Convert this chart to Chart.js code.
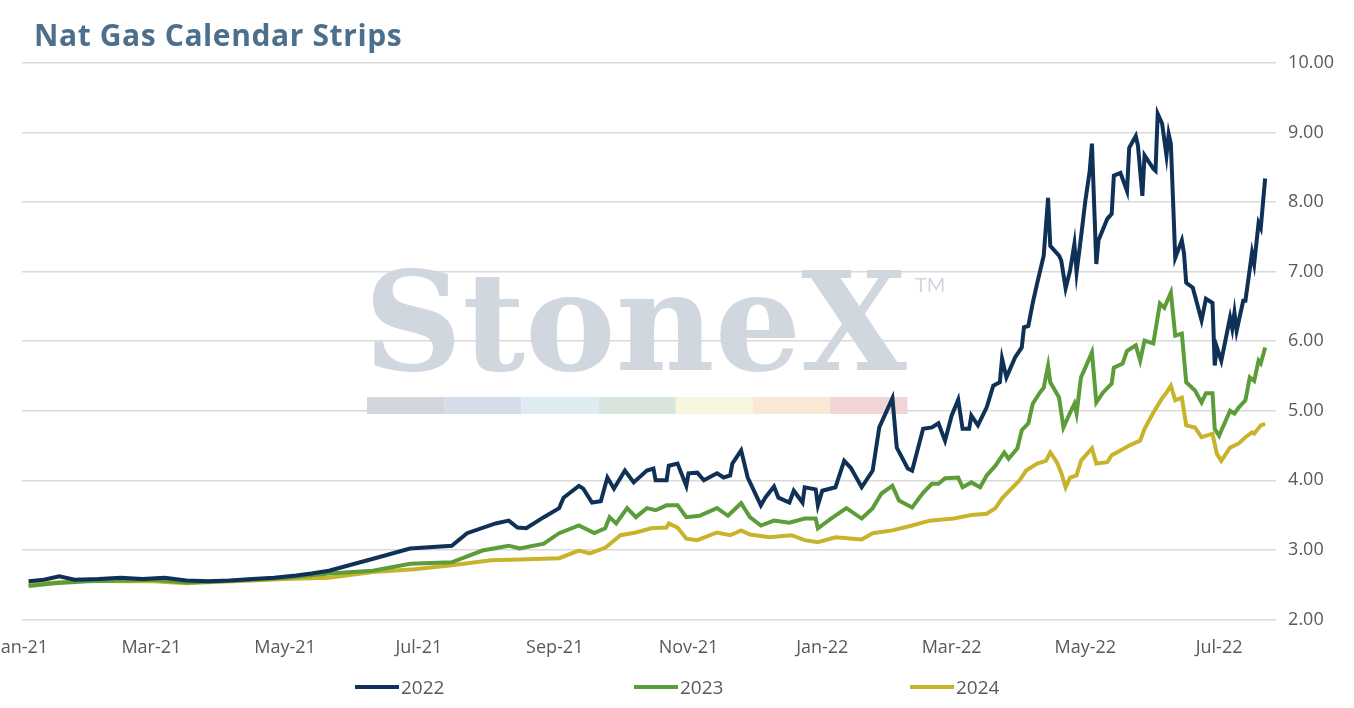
<!DOCTYPE html>
<html>
<head>
<meta charset="utf-8">
<script src="https://cdn.jsdelivr.net/npm/chart.js@4/dist/chart.umd.min.js"></script>
<style>
  body { margin: 0; background: #fff; font-family: "Open Sans", sans-serif; }
  #wrap { position: relative; width: 1354px; height: 708px; overflow: hidden; }
  #titulo { position: absolute; left: 34px; top: 14px; font-size: 30px; font-weight: bold; color: #4b6f8c; letter-spacing: 0.6px; }
  #leyenda { position: absolute; top: 674px; left: 0; width: 1354px; font-size: 19px; color: #595959; }
  .item { position: absolute; display: flex; align-items: center; }
  .item span.linea { display: inline-block; width: 44px; height: 4px; margin-right: 2px; }
</style>
</head>
<body>
<div id="wrap">
  <canvas id="grafico" width="1354" height="708"></canvas>
  <div id="titulo">Nat Gas Calendar Strips</div>
  <div id="leyenda"></div>
</div>
<script>
// dias desde el 1 de enero de 2021
const dias2022 = [3,10,17,24,35,45,55,65,75,85,95,105,115,125,132,140,161,177,196,203,216,222,226,230,238,245,247,254,256,260,264,267,270,275,279,285,288,289,294,295,299,303,304,308,311,317,320,323,324,328,331,337,339,343,345,350,352,356,357,362,363,365,371,375,378,383,388,391,397,399,404,406,411,415,418,421,424,427,429,432,433,436,440,443,446,447,449,453,456,457,459,461,463,466,468,469,473,474,476,478,480,481,483,485,487,488,490,491,495,497,498,501,504,505,508,509,511,512,516,517,518,520,522,523,524,526,529,530,531,534,538,540,543,544,545,547,551,552,553,554,557,558,561,562,564,565,567];
const valores2022 = [2.55,2.57,2.62,2.57,2.58,2.60,2.58,2.60,2.56,2.55,2.56,2.58,2.60,2.63,2.66,2.70,2.88,3.02,3.06,3.24,3.38,3.42,3.32,3.31,3.47,3.60,3.75,3.92,3.88,3.68,3.70,4.04,3.88,4.14,3.97,4.14,4.17,4.00,4.00,4.21,4.24,3.92,4.10,4.11,4.00,4.10,4.04,4.07,4.24,4.43,4.04,3.64,3.75,3.91,3.75,3.68,3.85,3.68,3.90,3.87,3.64,3.85,3.90,4.28,4.18,3.90,4.14,4.76,5.18,4.47,4.17,4.14,4.74,4.76,4.82,4.57,4.93,5.16,4.74,4.74,4.93,4.79,5.05,5.36,5.41,5.75,5.48,5.77,5.91,6.20,6.22,6.55,6.83,7.23,8.06,7.37,7.23,7.16,6.76,7.01,7.40,6.99,7.49,8.02,8.45,8.84,7.11,7.45,7.76,7.83,8.38,8.42,8.16,8.78,8.95,8.81,8.09,8.67,8.48,8.45,9.27,9.13,8.67,8.98,8.84,7.20,7.45,7.26,6.84,6.77,6.30,6.61,6.55,5.65,5.91,5.72,6.34,6.18,6.41,6.15,6.58,6.58,7.27,7.11,7.70,7.63,8.34];

const dias2023 = [3,15,30,45,60,75,90,105,120,140,160,177,196,210,222,227,238,245,254,261,266,268,271,276,280,285,289,294,299,303,309,317,322,328,332,337,343,350,357,362,363,369,376,383,388,392,397,400,406,411,415,418,421,427,429,433,437,440,444,448,450,454,456,459,461,464,466,468,469,473,475,478,480,481,483,485,488,490,493,497,498,502,504,508,510,512,516,519,521,524,526,529,531,535,538,540,543,544,546,551,553,555,558,560,562,564,565,567];
const valores2023 = [2.48,2.52,2.55,2.56,2.57,2.53,2.55,2.57,2.60,2.66,2.70,2.80,2.82,2.99,3.06,3.02,3.09,3.24,3.35,3.24,3.31,3.47,3.38,3.60,3.47,3.60,3.57,3.64,3.64,3.47,3.49,3.60,3.49,3.67,3.47,3.35,3.42,3.39,3.45,3.45,3.31,3.45,3.60,3.45,3.60,3.81,3.92,3.71,3.61,3.82,3.95,3.95,4.03,4.04,3.90,3.97,3.90,4.07,4.21,4.40,4.31,4.46,4.72,4.82,5.10,5.25,5.33,5.65,5.41,5.19,4.76,4.97,5.10,4.96,5.48,5.62,5.84,5.12,5.26,5.39,5.62,5.68,5.86,5.94,5.72,6.01,5.97,6.54,6.48,6.70,6.08,6.11,5.41,5.29,5.12,5.25,5.25,4.74,4.64,5.00,4.96,5.05,5.15,5.48,5.43,5.72,5.68,5.91];

const dias2024 = [3,15,30,45,60,75,90,105,120,140,160,179,196,214,227,245,254,259,266,273,280,287,294,295,299,303,308,317,323,328,332,341,351,357,363,371,383,388,397,406,414,425,433,440,444,447,455,458,463,467,469,472,474,476,478,481,483,488,490,495,497,501,505,510,512,516,520,522,524,526,529,531,535,538,543,545,547,551,555,558,561,562,565,567];
const valores2024 = [2.50,2.53,2.56,2.55,2.55,2.52,2.54,2.56,2.58,2.60,2.68,2.72,2.78,2.85,2.86,2.88,2.99,2.95,3.03,3.21,3.25,3.31,3.32,3.38,3.32,3.16,3.14,3.25,3.21,3.28,3.22,3.18,3.21,3.14,3.11,3.18,3.15,3.24,3.28,3.35,3.42,3.45,3.50,3.52,3.60,3.74,4.00,4.14,4.24,4.28,4.40,4.26,4.11,3.90,4.04,4.07,4.28,4.46,4.24,4.26,4.36,4.43,4.50,4.57,4.74,4.97,5.18,5.26,5.36,5.15,5.19,4.79,4.76,4.62,4.67,4.38,4.28,4.47,4.53,4.62,4.69,4.67,4.79,4.81];

const etiquetasMes = ['Jan-21','Mar-21','May-21','Jul-21','Sep-21','Nov-21','Jan-22','Mar-22','May-22','Jul-22'];
const diasMes = [0,59,120,181,243,304,365,424,485,546];

const series = [
  { label: '2022', dias: dias2022, valores: valores2022, color: '#0f3157' },
  { label: '2023', dias: dias2023, valores: valores2023, color: '#5c9d3a' },
  { label: '2024', dias: dias2024, valores: valores2024, color: '#c8b32c' }
];

// marca de agua
const marcaAgua = {
  id: 'marcaAgua',
  beforeDatasetsDraw(chart) {
    const ctx = chart.ctx;
    ctx.save();
    ctx.fillStyle = '#d1d7de';
    ctx.font = 'bold 136px "DejaVu Serif", serif';
    ctx.textBaseline = 'alphabetic';
    ctx.fillText('StoneX', 364, 370);
    ctx.font = '20px Lato';
    ctx.fillText('TM', 915, 292);
    const cols = ['#d2d7de','#d5dee8','#deebf3','#d8e5dc','#f8f6df','#f9e8d3','#f1d4d4'];
    cols.forEach((c, i) => {
      ctx.fillStyle = c;
      ctx.fillRect(367 + i * 77.2, 397, 77.2, 17);
    });
    ctx.restore();
  }
};

const ctx = document.getElementById('grafico').getContext('2d');
new Chart(ctx, {
  type: 'line',
  data: {
    datasets: series.map(s => ({
      label: s.label,
      data: s.dias.map((d, i) => ({ x: d, y: s.valores[i] })),
      borderColor: s.color,
      backgroundColor: s.color,
      borderWidth: 4,
      pointRadius: 0,
      tension: 0
    }))
  },
  options: {
    responsive: false,
    animation: false,
    layout: { padding: { top: 63, bottom: 39, left: 22, right: 8 } },
    plugins: { legend: { display: false }, tooltip: { enabled: false } },
    scales: {
      x: {
        type: 'linear',
        min: 0,
        max: 572,
        grid: { display: false },
        border: { display: false },
        afterBuildTicks: axis => { axis.ticks = diasMes.map(v => ({ value: v })); },
        afterFit: axis => { axis.paddingLeft = 0; },
        ticks: {
          autoSkip: false,
          maxRotation: 0,
          color: '#595959',
          font: { family: 'Open Sans', size: 18 },
          padding: 10,
          callback: v => etiquetasMes[diasMes.indexOf(v)]
        }
      },
      y: {
        position: 'right',
        min: 2,
        max: 10,
        grid: { color: '#d9d9d9', lineWidth: 1.5, drawTicks: false },
        border: { display: false },
        ticks: {
          stepSize: 1,
          color: '#595959',
          padding: 12,
          font: { family: 'Open Sans', size: 18 },
          callback: v => v.toFixed(2)
        }
      }
    }
  },
  plugins: [marcaAgua]
});

// leyenda
const leyenda = document.getElementById('leyenda');
const posLeyenda = [355, 634, 910];
series.forEach((s, i) => {
  const d = document.createElement('div');
  d.className = 'item';
  d.style.left = posLeyenda[i] + 'px';
  d.innerHTML = '<span class="linea" style="background:' + s.color + '"></span>' + s.label;
  leyenda.appendChild(d);
});
</script>
</body>
</html>
